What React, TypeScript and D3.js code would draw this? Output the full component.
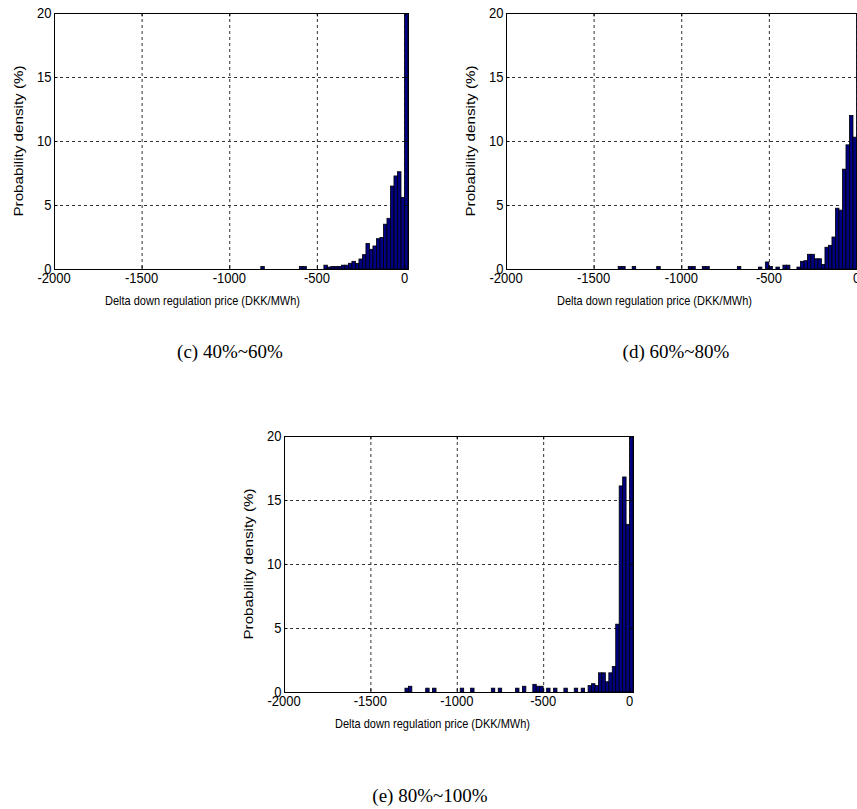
import React from 'react';
import * as d3 from 'd3';

const binWidth = 20;
const xDomain = [-2000, 20];
const yDomain = [0, 20];
const xTicks = [-2000, -1500, -1000, -500, 0];
const yTicks = [0, 5, 10, 15, 20];

const binStartsC = [-820, -600, -580, -460, -440, -420, -400, -380, -360, -340, -320, -300, -280, -260, -240, -220, -200, -180, -160, -140, -120, -100, -80, -60, -40, -20, 0];
const densityC = [0.2, 0.2, 0.2, 0.3, 0.15, 0.2, 0.2, 0.2, 0.3, 0.3, 0.45, 0.6, 0.44, 0.78, 1.12, 2.0, 1.54, 1.8, 2.37, 2.47, 3.5, 3.96, 6.48, 7.27, 7.6, 5.6, 20];

const binStartsD = [-1360, -1340, -1280, -1140, -960, -940, -880, -860, -680, -560, -520, -500, -460, -420, -400, -340, -320, -300, -280, -260, -240, -220, -200, -180, -160, -140, -120, -100, -80, -60, -40, -20, 0];
const densityD = [0.2, 0.2, 0.2, 0.2, 0.2, 0.2, 0.2, 0.2, 0.2, 0.15, 0.55, 0.2, 0.15, 0.3, 0.3, 0.15, 0.6, 0.65, 1.15, 1.15, 0.8, 0.8, 0.35, 1.7, 1.85, 2.5, 4.75, 4.6, 7.8, 9.7, 12.0, 10.3, 20];

const binStartsE = [-1300, -1280, -1180, -1140, -980, -920, -800, -760, -660, -620, -560, -540, -520, -480, -440, -380, -320, -280, -240, -220, -200, -180, -160, -140, -120, -100, -80, -60, -40, -20, 0];
const densityE = [0.3, 0.45, 0.3, 0.3, 0.3, 0.3, 0.3, 0.3, 0.3, 0.45, 0.6, 0.45, 0.45, 0.3, 0.3, 0.3, 0.3, 0.3, 0.5, 0.65, 0.5, 1.5, 1.5, 0.8, 1.5, 2.0, 5.3, 16.1, 16.8, 13.1, 20];

const captions = ['(c) 40%~60%', '(d) 60%~80%', '(e) 80%~100%'];
const xLabel = 'Delta down regulation price (DKK/MWh)';
const yLabel = 'Probability density (%)';

const SANS = '"Liberation Sans", Arial, sans-serif';
const SERIF = '"Liberation Serif", "Times New Roman", serif';
const STRETCH = 1.17;

type PanelProps = {
  left: number; top: number; width: number; height: number;
  starts: number[]; values: number[]; clipId: string;
};

function Panel({ left, top, width, height, starts, values, clipId }: PanelProps) {
  const x = d3.scaleLinear().domain(xDomain).range([left, left + width]);
  const y = d3.scaleLinear().domain(yDomain).range([top + height, top]);
  const bottom = top + height;
  const right = left + width;
  const tick = 3.5;
  return (
    <g>
      <defs>
        <clipPath id={clipId}>
          <rect x={left} y={top} width={width} height={height} />
        </clipPath>
      </defs>
      <rect x={left} y={top} width={width} height={height} fill="#fff" />
      {/* grid */}
      <g stroke="#000" strokeWidth={1} strokeDasharray="3,3" opacity={0.8}>
        {xTicks.filter(t => t > xDomain[0]).map(t => (
          <line key={'gx' + t} x1={x(t) + 0.5} x2={x(t) + 0.5} y1={top} y2={bottom} />
        ))}
        {yTicks.filter(t => t > yDomain[0] && t < yDomain[1]).map(t => (
          <line key={'gy' + t} x1={left} x2={right} y1={y(t) + 0.5} y2={y(t) + 0.5} />
        ))}
      </g>
      {/* bars */}
      <g clipPath={`url(#${clipId})`}>
        {starts.map((s, i) => {
          const v = Math.min(values[i], yDomain[1]);
          return (
            <rect key={'b' + i} x={x(s)} y={y(v)} width={x(s + binWidth) - x(s)} height={y(0) - y(v)}
              fill="#000080" stroke="#000" strokeWidth={0.8} />
          );
        })}
      </g>
      {/* ticks */}
      <g stroke="#000" strokeWidth={1}>
        {xTicks.map(t => (
          <g key={'tx' + t}>
            <line x1={x(t) + 0.5} x2={x(t) + 0.5} y1={bottom} y2={bottom - tick} />
            <line x1={x(t) + 0.5} x2={x(t) + 0.5} y1={top} y2={top + tick} />
          </g>
        ))}
        {yTicks.map(t => (
          <g key={'ty' + t}>
            <line x1={left} x2={left + tick} y1={y(t) + 0.5} y2={y(t) + 0.5} />
            <line x1={right} x2={right - tick} y1={y(t) + 0.5} y2={y(t) + 0.5} />
          </g>
        ))}
      </g>
      <rect x={left + 0.5} y={top + 0.5} width={width} height={height} fill="none" stroke="#000" strokeWidth={1} />
      {/* tick labels */}
      <g fontFamily={SANS} fontSize={13} fill="#000">
        {xTicks.map(t => (
          <text key={'lx' + t} transform={`translate(${x(t)},${bottom + 14}) scale(1,${STRETCH})`} textAnchor="middle">{t}</text>
        ))}
        {yTicks.map(t => (
          <text key={'ly' + t} transform={`translate(${left - 2.5},${y(t) + 5.4}) scale(1,${STRETCH})`} textAnchor="end">{t}</text>
        ))}
      </g>
      <text transform={`translate(${left + 51},${bottom + 35.5}) scale(1,${STRETCH})`} fontFamily={SANS} fontSize={11} fill="#000">{xLabel}</text>
      <text transform={`translate(${left - 31},${top + height / 2}) rotate(-90) scale(${STRETCH},1)`} textAnchor="middle"
        fontFamily={SANS} fontSize={13} fill="#000">{yLabel}</text>
    </g>
  );
}

export default function App() {
  return (
    <svg width={857} height={809} style={{ position: 'absolute', left: 0, top: 0, background: '#fff' }}>
      <rect x={0} y={0} width={857} height={809} fill="#fff" />
      <Panel left={54} top={13} width={354} height={256} starts={binStartsC} values={densityC} clipId="clipC" />
      <Panel left={506} top={13} width={354} height={256} starts={binStartsD} values={densityD} clipId="clipD" />
      <Panel left={284} top={436} width={349} height={256} starts={binStartsE} values={densityE} clipId="clipE" />
      <g fontFamily={SERIF} fontSize={19} fill="#000" textAnchor="middle">
        <text x={230} y={358}>{captions[0]}</text>
        <text x={676} y={358}>{captions[1]}</text>
        <text x={430} y={802}>{captions[2]}</text>
      </g>
    </svg>
  );
}
